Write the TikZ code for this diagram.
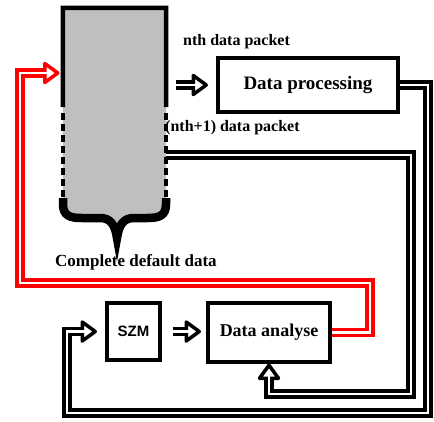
\documentclass[tikz,border=0pt]{standalone}
\usepackage{fontspec}
\setmainfont{Liberation Serif}
\newfontfamily\szmfont{Liberation Sans}

\begin{document}
\begin{tikzpicture}[x=1pt, y=-1pt,
  box/.style={draw, line width=3.5pt, inner sep=0pt, font=\bfseries\fontsize{18}{20}\selectfont},
  link/.style={draw=black, line width=3.5pt, double=white, double distance=2.5pt},
  redlink/.style={link, draw=red},
  head/.pic={
    \path[pic actions, fill=white, line width=3.5pt, line join=round] (-13pt,-9.5pt) -- (0,0) -- (-13pt,9.5pt) -- cycle;
    \path[draw=white, line width=2.5pt] (-16pt,0) -- (-10pt,0);},
  lbl/.style={anchor=west, inner sep=0pt, font=\bfseries\fontsize{16}{18}\selectfont}]
  \useasboundingbox (0,0) rectangle (434,421);

  \node[minimum width=103pt, minimum height=204pt, inner sep=0pt] (store) at (114.5,110) {};
  \fill[gray!50] (store.north west) -- (store.north east) -- (166,204)
    .. controls (166,216) and (159,218) .. (147,218) -- (134,218)
    .. controls (124,218) and (119,224) .. (117,236)
    .. controls (115,224) and (110,218) .. (100,218) -- (82,218)
    .. controls (70,218) and (63,216) .. (63,204) -- cycle;
  \draw[line width=4.5pt] (63,107) -- (store.north west) -- (store.north east) -- (166,107);
  \draw[line width=4.5pt, dash pattern=on 7pt off 4pt] (63,113) -- (63,198) (166,113) -- (166,198);
  \draw[line width=8.5pt] (63,198) -- (63,204)
    .. controls (63,216) and (70,218) .. (82,218) -- (100,218)
    .. controls (110,218) and (115,224) .. (117,238)
    .. controls (119,224) and (124,218) .. (134,218) -- (147,218)
    .. controls (159,218) and (166,216) .. (166,204) -- (166,198);

  \node[lbl] (nth) at (183,42) {nth data packet};
  \node[lbl] (next) at (165,128) {(nth+1) data packet};
  \node[lbl, font=\bfseries\fontsize{17}{18}\selectfont] (full) at (55,262) {Complete default data};

  \node[box, minimum width=180pt, minimum height=54pt, font=\bfseries\fontsize{19}{20}\selectfont] (proc) at (308,85) {Data processing};
  \node[box, minimum width=53pt, minimum height=57pt, font=\szmfont\bfseries\fontsize{15}{16}\selectfont] (szm) at (133.5,331.5) {SZM};
  \node[box, minimum width=122pt, minimum height=59pt] (analyse) at (269,332.5) {Data analyse};

  \draw[link] (proc.east) -- (428,85) -- (428,413) -- (67,413) |- ([xshift=-22pt]szm.west);
  \pic[draw=black] at ([xshift=-10pt]szm.west) {head};
  \draw[link] ([yshift=-45pt]store.east) -| (411,394) -| ([yshift=-14pt]analyse.south);
  \pic[draw=black, rotate=90] at ([yshift=-1.5pt]analyse.south) {head};
  \draw[redlink] (analyse.east) -- (370,332.5) |- (20,283) |- ([xshift=-18pt,yshift=37pt]store.west);
  \pic[draw=red] at ([xshift=-5pt,yshift=37pt]store.west) {head};

  \draw[link] ([xshift=10pt]store.east |- proc.west) -- ([xshift=-23pt]proc.west);
  \pic[draw=black] at ([xshift=-10pt]proc.west) {head};
  \draw[link] ([xshift=11pt]szm.east) -- ([xshift=-20pt]szm.east -| analyse.west);
  \pic[draw=black] at ([xshift=-7pt]szm.east -| analyse.west) {head};
\end{tikzpicture}
\end{document}
